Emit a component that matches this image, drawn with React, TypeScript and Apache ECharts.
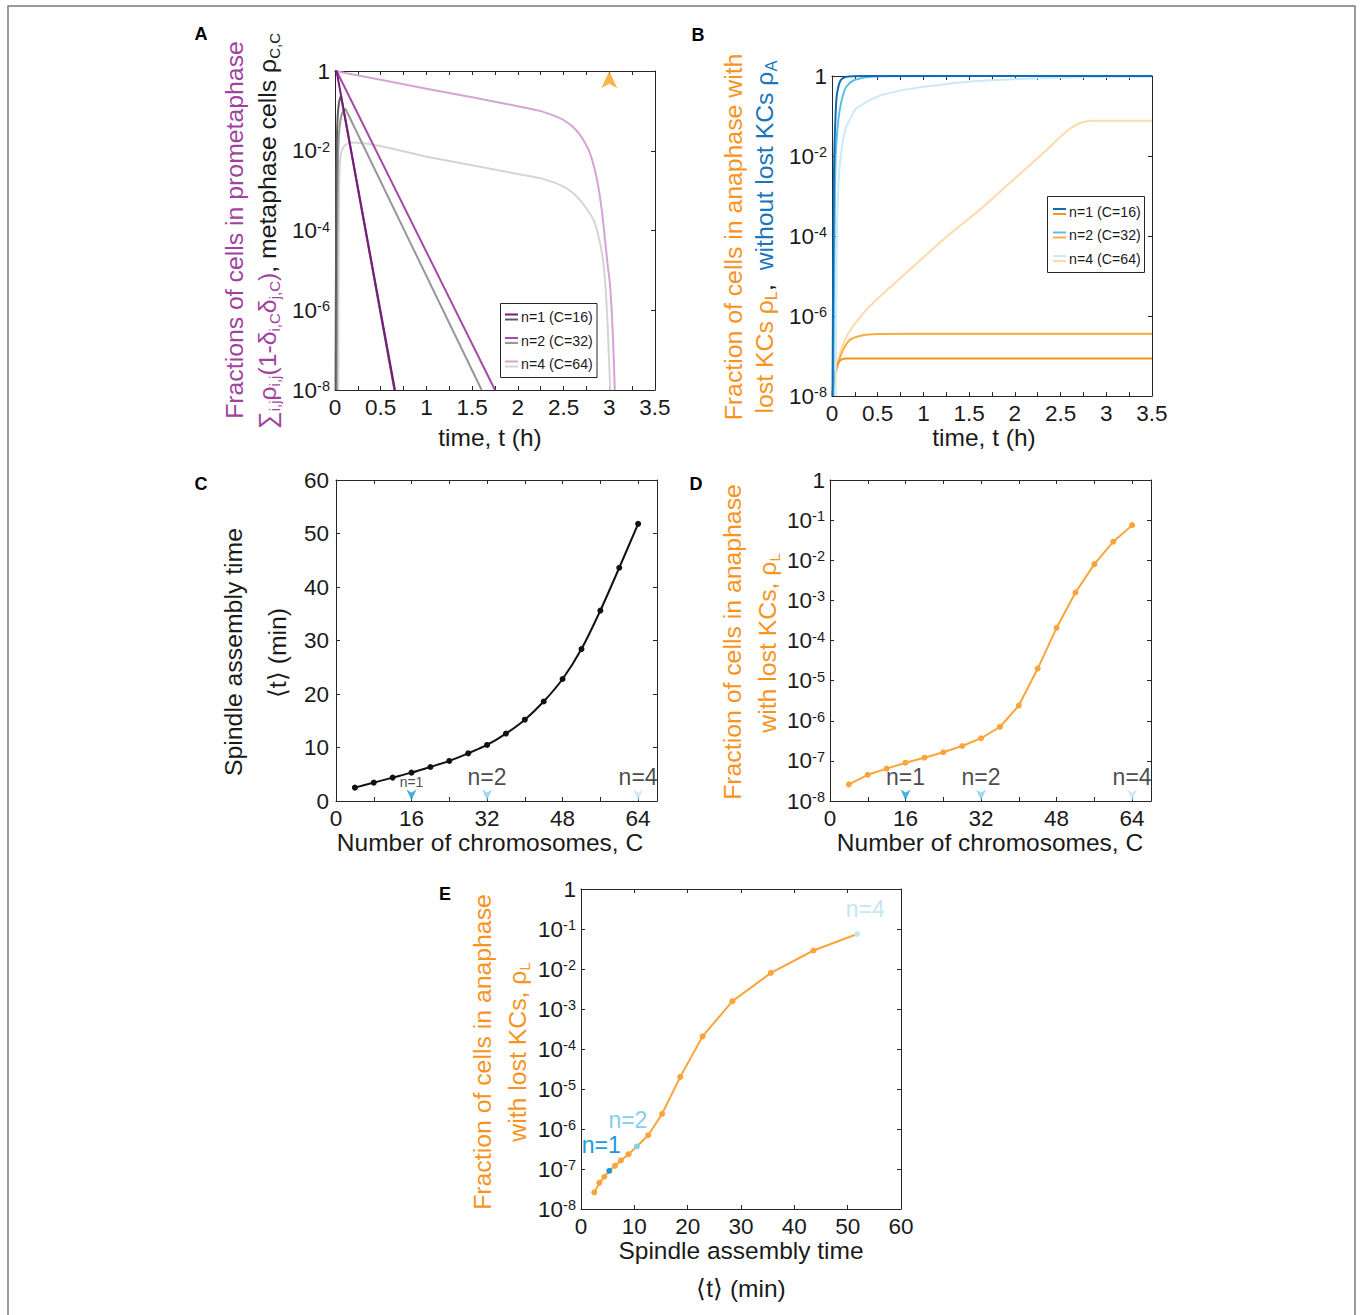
import React, { useEffect, useRef } from 'react';
import * as echarts from 'echarts';

const FONT = '"Liberation Sans", Arial, Helvetica, sans-serif';
const INK = '#1a1a1a';

// ---------- colours ----------
const purple = ['#7B1A7E', '#A54BA7', '#D5A3D6'];
const gray = ['#5E5E5E', '#979797', '#D4D4D4'];
const blue = ['#0E6DB6', '#5CBDE8', '#CBE9F7'];
const orange = ['#F7941E', '#FAAC40', '#FDDBA9'];
const lineOrange = '#F9A53B';
const markerColors = ['#1E9AD6', '#86CEEE', '#C3E6F6'];
const legendLabels = ['n=1 (C=16)', 'n=2 (C=32)', 'n=4 (C=64)'];
const nLabels = ['n=1', 'n=2', 'n=4'];

// ---------- Panel A: time (h) vs fraction (prometaphase / metaphase) ----------
const A_prometa_n1 = [[0, 1], [0.01, 0.99], [0.018, 0.97], [0.656, 1e-8]];
const A_prometa_n2 = [[0, 1], [0.01, 0.99], [0.02, 0.97], [1.75, 1e-8]];
const A_prometa_n4 = [[0, 1], [0.5, 0.6], [1.0, 0.36], [1.5, 0.22], [2.0, 0.13], [2.24, 0.1], [2.4, 0.075], [2.5, 0.059], [2.6, 0.04], [2.68, 0.025], [2.74, 0.015], [2.79, 0.0085], [2.84, 3.5e-3], [2.88, 1.26e-3], [2.92, 3.0e-4], [2.95, 6.9e-5], [2.98, 1.5e-5], [3.01, 3.9e-6], [3.04, 2.2e-7], [3.06, 1e-8]];
const A_meta_n1 = [[0.006, 1e-8], [0.009, 1e-6], [0.012, 1e-4], [0.016, 3e-3], [0.022, 3e-2], [0.03, 0.08], [0.04, 0.14], [0.05, 0.19], [0.058, 0.22], [0.066, 0.23], [0.075, 0.18], [0.65, 1e-8]];
const A_meta_n2 = [[0.018, 1e-8], [0.021, 1e-6], [0.024, 1e-4], [0.028, 1e-3], [0.034, 8e-3], [0.04, 2e-2], [0.05, 4e-2], [0.06, 6e-2], [0.075, 0.085], [0.09, 0.1], [0.105, 0.108], [0.117, 0.11], [0.13, 0.095], [1.604, 1e-8]];
const A_meta_n4 = [[0.036, 1e-8], [0.04, 1e-5], [0.045, 1e-3], [0.06, 7e-3], [0.1, 1.3e-2], [0.2, 1.6e-2], [1.0, 7.1e-3], [2.0, 2.6e-3], [2.31, 1.86e-3], [2.5, 1.26e-3], [2.6, 8.8e-4], [2.68, 5.8e-4], [2.76, 3.3e-4], [2.83, 1.8e-4], [2.88, 7.5e-5], [2.92, 2.7e-5], [2.95, 7e-6], [2.97, 1.5e-6], [2.99, 1.5e-7], [3.01, 1e-8]];
const A_arrow = [[3.0, 0.6]];

// ---------- Panel B: anaphase with / without lost KCs ----------
const B_A_n1 = [[0.006, 1e-8], [0.01, 1e-6], [0.016, 1e-4], [0.025, 1e-2], [0.047, 0.25], [0.066, 0.5], [0.09, 0.75], [0.12, 0.88], [0.18, 0.97], [0.3, 1], [3.5, 1]];
const B_A_n2 = [[0.015, 1e-8], [0.02, 1e-6], [0.027, 1e-4], [0.04, 1e-2], [0.06, 0.05], [0.084, 0.14], [0.12, 0.33], [0.157, 0.54], [0.23, 0.76], [0.375, 0.93], [0.6, 0.99], [3.5, 1]];
const B_A_n4 = [[0.04, 1e-8], [0.045, 1e-6], [0.052, 1e-4], [0.065, 1e-3], [0.085, 6e-3], [0.12, 0.025], [0.157, 0.054], [0.23, 0.116], [0.266, 0.155], [0.52, 0.32], [0.886, 0.49], [1.25, 0.63], [1.6, 0.75], [1.98, 0.83], [2.34, 0.89], [2.7, 0.93], [3.5, 0.96]];
const B_L_n1 = [[0.003, 1e-8], [0.02, 2.5e-8], [0.047, 4.4e-8], [0.084, 7.6e-8], [0.157, 8.6e-8], [3.5, 8.7e-8]];
const B_L_n2 = [[0.005, 1e-8], [0.03, 3.5e-8], [0.066, 6.5e-8], [0.12, 1.4e-7], [0.193, 2.5e-7], [0.34, 3.3e-7], [0.52, 3.55e-7], [0.8, 3.6e-7], [3.5, 3.6e-7]];
const B_L_n4 = [[0.003, 1e-8], [0.047, 5.4e-8], [0.157, 3.0e-7], [0.339, 1.15e-6], [0.521, 3.0e-6], [0.886, 1.7e-5], [1.25, 9.5e-5], [1.615, 4.5e-4], [1.98, 2.5e-3], [2.344, 1.4e-2], [2.46, 2.5e-2], [2.563, 4.1e-2], [2.64, 5.5e-2], [2.709, 6.6e-2], [2.78, 7.3e-2], [2.836, 7.6e-2], [3.5, 7.6e-2]];

// ---------- Panels C, D, E ----------
const chromosomes = [4, 8, 12, 16, 20, 24, 28, 32, 36, 40, 44, 48, 52, 56, 60, 64];
const spindleTime = [2.5, 3.43, 4.37, 5.3, 6.36, 7.49, 8.92, 10.48, 12.6, 15.2, 18.6, 22.8, 28.4, 35.6, 43.6, 51.8];
const rhoL = [2.6e-8, 4.5e-8, 6.4e-8, 9.0e-8, 1.2e-7, 1.64e-7, 2.35e-7, 3.66e-7, 7.0e-7, 2.39e-6, 2.0e-5, 2.07e-4, 1.57e-3, 8.0e-3, 2.9e-2, 7.5e-2];
const markerC = [16, 32, 64];
const highlightIdx = [3, 7, 15];

// ---------- helpers ----------
const axisCommon = {
  axisLine: { show: true, onZero: false, lineStyle: { color: '#262626', width: 1 } },
  axisTick: { show: true, inside: true, length: 4, lineStyle: { color: '#262626', width: 1 } },
  splitLine: { show: false },
  axisPointer: { show: false },
};
const TICK = 22.5;
const tickFont = { fontSize: TICK, fontFamily: FONT, color: INK };
const logRich = {
  b: { fontSize: TICK, fontFamily: FONT, color: INK },
  s: { fontSize: 14.5, fontFamily: FONT, color: INK, verticalAlign: 'top' },
};
const logFmt = (v: number) => {
  const e = Math.round(Math.log10(v));
  return e === 0 ? '{b|1}' : `{b|10}{s|${e}}`;
};

function xPair(grid: number, min: number, max: number, interval: number, fmt: (v: number) => string) {
  const base = { type: 'value', gridIndex: grid, min, max, interval, ...axisCommon };
  return [
    { ...base, position: 'bottom', axisLabel: { show: true, formatter: fmt, margin: 6, ...tickFont } },
    { ...base, position: 'top', axisLabel: { show: false } },
  ];
}
function yLinPair(grid: number, min: number, max: number, interval: number) {
  const base = { type: 'value', gridIndex: grid, min, max, interval, ...axisCommon };
  return [
    { ...base, position: 'left', axisLabel: { show: true, margin: 7, ...tickFont } },
    { ...base, position: 'right', axisLabel: { show: false } },
  ];
}
function yLogPair(grid: number, logBase: number, splitNumber: number) {
  const base = { type: 'log', gridIndex: grid, logBase, min: 1e-8, max: 1, splitNumber, ...axisCommon };
  return [
    { ...base, position: 'left', axisLabel: { show: true, margin: 5, formatter: logFmt, rich: logRich } },
    { ...base, position: 'right', axisLabel: { show: false } },
  ];
}
const halfFmt = (v: number) => (Math.abs(v * 2 - Math.round(v * 2)) < 1e-6 ? String(Math.round(v * 10) / 10) : '');
const c16Fmt = (v: number) => (v % 16 === 0 && v <= 64 ? String(v) : '');
const intFmt = (v: number) => String(v);

function curve(data: number[][], color: string, panel: number, smooth: number | boolean = 0.3, width = 2) {
  return {
    type: 'line', xAxisIndex: panel * 2, yAxisIndex: panel * 2, data,
    showSymbol: false, symbol: 'none', smooth,
    lineStyle: { color, width }, silent: true, clip: true,
  };
}

const downArrow = 'path://M0,0 L5,3 L10,0 L5,11 Z';
const upArrow = 'path://M5,0 L10,11 L5,8 L0,11 Z';

function markers(panel: number, yVal: number, smallFirst: boolean) {
  return {
    type: 'scatter', xAxisIndex: panel * 2, yAxisIndex: panel * 2, silent: true, clip: false,
    symbol: downArrow, symbolSize: [10, 11], symbolOffset: [0, -6],
    data: markerC.map((c, i) => ({
      value: [c, yVal],
      itemStyle: { color: markerColors[i] },
      label: {
        show: true, position: 'top', distance: 1, formatter: nLabels[i],
        fontSize: smallFirst && i === 0 ? 14 : 23, fontFamily: FONT, color: INK,
      },
    })),
  };
}

const TS = 24.8; // title size
const SS = 15; // subscript size
const tok = (fill: string, size: number, va?: string) => ({
  fill, color: fill, fontSize: size, fontFamily: FONT,
  lineHeight: va ? 15 : 30,
  ...(va ? { verticalAlign: va } : {}),
});

function vtitle(x: number, y: number, text: string, rich: any) {
  return { type: 'text', x, y, rotation: Math.PI / 2, z: 100, style: { text, rich, align: 'center', verticalAlign: 'middle' } };
}
function htitle(x: number, y: number, text: string, size = 24.5) {
  return { type: 'text', x, y, z: 100, style: { text, fill: INK, font: `${size}px ${FONT}`, align: 'center', verticalAlign: 'middle' } };
}
function letter(x: number, y: number, text: string) {
  return { type: 'text', x, y, z: 100, style: { text, fill: '#000', font: `bold 18px ${FONT}`, align: 'center', verticalAlign: 'middle' } };
}
function legendBox(x: number, y: number, w: number, h: number, rowsY: number[], top: string[], bottom: string[], lx: number) {
  const els: any[] = [
    { type: 'rect', z: 100, shape: { x, y, width: w, height: h }, style: { fill: '#fff', stroke: '#262626', lineWidth: 1 } },
  ];
  rowsY.forEach((ry, i) => {
    els.push({ type: 'line', z: 101, shape: { x1: lx, y1: ry - 2.5, x2: lx + 13, y2: ry - 2.5 }, style: { stroke: top[i], lineWidth: 2 } });
    els.push({ type: 'line', z: 101, shape: { x1: lx, y1: ry + 2.5, x2: lx + 13, y2: ry + 2.5 }, style: { stroke: bottom[i], lineWidth: 2 } });
    els.push({ type: 'text', z: 101, x: lx + 16, y: ry, style: { text: legendLabels[i], fill: INK, font: `14.2px ${FONT}`, align: 'left', verticalAlign: 'middle' } });
  });
  return els;
}

const eLabelOffsets = [[-8, -26], [-9, -26], [8, -25]];

function buildOption() {
  const xAxis = [
    ...xPair(0, 0, 3.5, 0.25, halfFmt),
    ...xPair(1, 0, 3.5, 0.25, halfFmt),
    ...xPair(2, 0, 68, 8, c16Fmt),
    ...xPair(3, 0, 68, 8, c16Fmt),
    ...xPair(4, 0, 60, 10, intFmt),
  ];
  const yAxis = [
    ...yLogPair(0, 100, 5),
    ...yLogPair(1, 100, 5),
    ...yLinPair(2, 0, 60, 10),
    ...yLogPair(3, 10, 8),
    ...yLogPair(4, 10, 8),
  ];

  const series: any[] = [
    // Panel A
    curve(A_meta_n4, gray[2], 0),
    curve(A_meta_n2, gray[1], 0, false),
    curve(A_meta_n1, gray[0], 0, false),
    curve(A_prometa_n4, purple[2], 0),
    curve(A_prometa_n2, purple[1], 0, false),
    curve(A_prometa_n1, purple[0], 0, false),
    {
      type: 'scatter', xAxisIndex: 0, yAxisIndex: 0, data: A_arrow, symbol: upArrow,
      symbolSize: [16, 17], itemStyle: { color: '#F8A21C' }, silent: true, clip: false,
    },
    // Panel B
    curve(B_L_n4, orange[2], 1),
    curve(B_L_n2, orange[1], 1),
    curve(B_L_n1, orange[0], 1),
    curve(B_A_n4, blue[2], 1),
    curve(B_A_n2, blue[1], 1),
    curve(B_A_n1, blue[0], 1),
    // Panel C
    {
      type: 'line', xAxisIndex: 4, yAxisIndex: 4, silent: true,
      data: chromosomes.map((c, i) => [c, spindleTime[i]]),
      smooth: 0.3, symbol: 'circle', symbolSize: 6, showSymbol: true,
      lineStyle: { color: '#111', width: 2 }, itemStyle: { color: '#111' },
    },
    markers(2, 0, true),
    // Panel D
    {
      type: 'line', xAxisIndex: 6, yAxisIndex: 6, silent: true,
      data: chromosomes.map((c, i) => [c, rhoL[i]]),
      symbol: 'circle', symbolSize: 6, showSymbol: true,
      lineStyle: { color: lineOrange, width: 2 }, itemStyle: { color: lineOrange },
    },
    markers(3, 1e-8, false),
    // Panel E
    {
      type: 'line', xAxisIndex: 8, yAxisIndex: 8, silent: true,
      symbol: 'circle', symbolSize: 6, showSymbol: true,
      lineStyle: { color: lineOrange, width: 2 }, itemStyle: { color: lineOrange },
      data: spindleTime.map((t, i) => {
        const h = highlightIdx.indexOf(i);
        if (h < 0) return [t, rhoL[i]];
        return {
          value: [t, rhoL[i]],
          itemStyle: { color: markerColors[h] },
          label: {
            show: true, position: 'inside', offset: eLabelOffsets[h], formatter: nLabels[h],
            color: markerColors[h], fontSize: 23, fontFamily: FONT,
          },
        };
      }),
    },
  ];

  const graphic: any[] = [
    { type: 'rect', z: 0, shape: { x: 8, y: 6, width: 1347, height: 1330 }, style: { fill: 'none', stroke: '#7a7a7a', lineWidth: 1.5 } },
    letter(201, 34, 'A'), letter(698, 35, 'B'), letter(201, 484, 'C'), letter(696, 484, 'D'), letter(445, 894, 'E'),
    // Y titles
    vtitle(234, 230, '{p|Fractions of cells in prometaphase}', { p: tok('#A0439F', TS) }),
    vtitle(267, 231, '{p|∑}{ps|i,j}{p|ρ}{ps|i,j}{p|(1-δ}{ps|i,C}{p|δ}{ps|j,C}{p|)}{k|, metaphase cells ρ}{ks|C,C}', {
      p: tok('#A0439F', TS), ps: tok('#A0439F', SS, 'bottom'), k: tok(INK, TS), ks: tok(INK, SS, 'bottom'),
    }),
    vtitle(733, 237, '{o|Fraction of cells in anaphase with}', { o: tok('#F7931E', TS) }),
    vtitle(764, 237, '{o|lost KCs ρ}{os|L}{k|,  }{b|without lost KCs ρ}{bs|A}', {
      o: tok('#F7931E', TS), os: tok('#F7931E', 16.5, 'bottom'), k: tok(INK, TS), b: tok('#1B75BC', TS), bs: tok('#1B75BC', 16.5, 'bottom'),
    }),
    vtitle(233, 652, '{k|Spindle assembly time}', { k: tok(INK, TS) }),
    vtitle(277, 653, '{k|⟨t⟩ (min)}', { k: tok(INK, TS) }),
    vtitle(732, 642, '{o|Fraction of cells in anaphase}', { o: tok('#F7931E', TS) }),
    vtitle(767, 643, '{o|with lost KCs, ρ}{os|L}', { o: tok('#F7931E', TS), os: tok('#F7931E', SS, 'bottom') }),
    vtitle(482, 1052, '{o|Fraction of cells in anaphase}', { o: tok('#F7931E', TS) }),
    vtitle(517, 1052, '{o|with lost KCs, ρ}{os|L}', { o: tok('#F7931E', TS), os: tok('#F7931E', SS, 'bottom') }),
    // X titles
    htitle(490, 437, 'time, t (h)'),
    htitle(984, 437, 'time, t (h)'),
    htitle(490, 842, 'Number of chromosomes, C'),
    htitle(990, 842, 'Number of chromosomes, C'),
    htitle(741, 1250, 'Spindle assembly time'),
    htitle(741, 1288, '⟨t⟩ (min)'),
    // legends
    ...legendBox(500.5, 303.5, 96.5, 74, [317, 340.5, 364], purple, gray, 505),
    ...legendBox(1047.5, 196.5, 97, 76, [211.5, 235, 258.5], blue, orange, 1053),
  ];

  return {
    animation: false,
    backgroundColor: '#ffffff',
    textStyle: { fontFamily: FONT },
    grid: [
      { left: 335, top: 71, width: 320, height: 319, outerBoundsMode: 'none' },
      { left: 832, top: 76, width: 320, height: 320, outerBoundsMode: 'none' },
      { left: 336, top: 480, width: 321, height: 321, outerBoundsMode: 'none' },
      { left: 830, top: 480, width: 321, height: 321, outerBoundsMode: 'none' },
      { left: 581, top: 889, width: 320, height: 320, outerBoundsMode: 'none' },
    ],
    xAxis,
    yAxis,
    series,
    graphic,
  };
}

export default function App() {
  const ref = useRef<HTMLDivElement>(null);
  useEffect(() => {
    document.body.style.margin = '0';
    const chart = echarts.init(ref.current!, null, { renderer: 'svg', width: 1360, height: 1315 });
    chart.setOption(buildOption() as any);
    return () => chart.dispose();
  }, []);
  return <div ref={ref} style={{ width: 1360, height: 1315, background: '#fff' }} />;
}
